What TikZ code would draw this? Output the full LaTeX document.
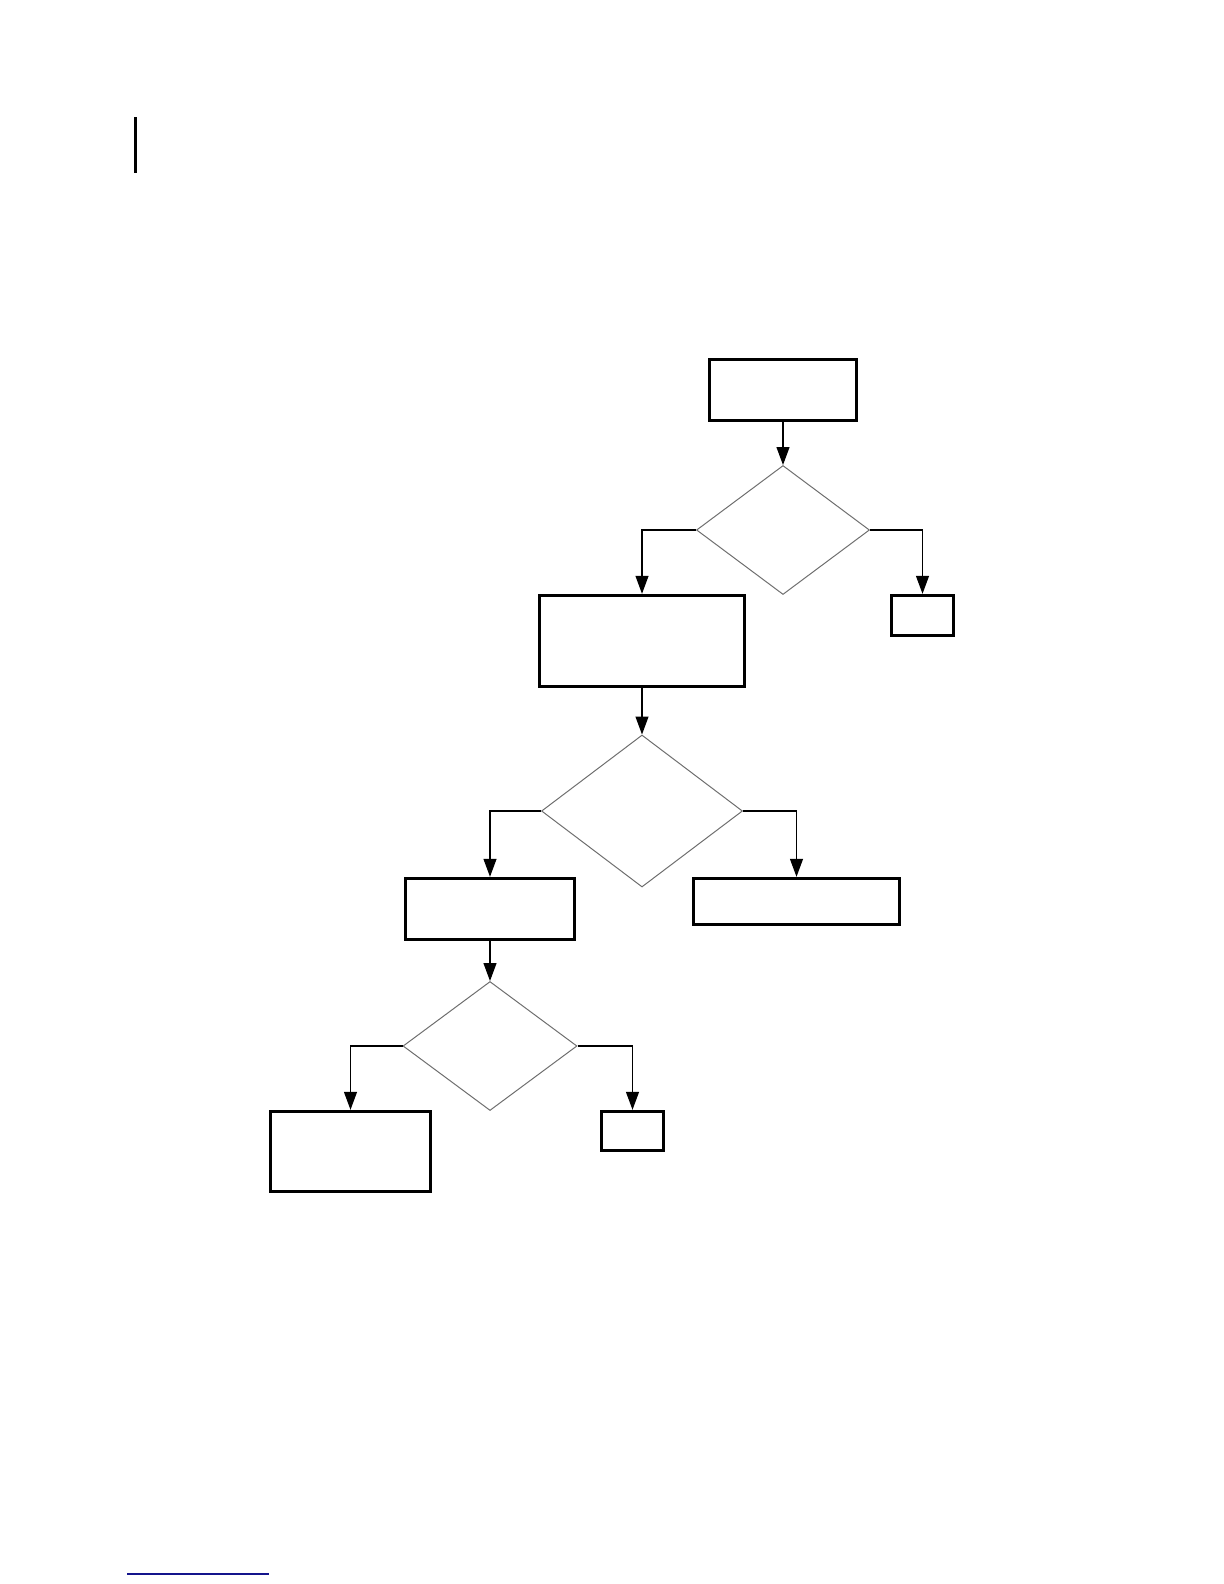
\documentclass[tikz,border=0pt]{standalone}
\usepackage{tikz}
\usetikzlibrary{arrows.meta, positioning, shapes.geometric}
\definecolor{linkblue}{RGB}{20,20,140}
\definecolor{decgray}{RGB}{110,110,110}

\begin{document}
\begin{tikzpicture}[
    x=0.5bp, y=-0.5bp,
    box/.style={draw, line width=1.7bp, inner sep=0pt},
    decision/.style={draw=decgray, diamond, line width=0.5bp, inner sep=0pt},
    arr/.style={-{Triangle[length=9bp,width=6.5bp]}, line width=0.6bp}
]
  \useasboundingbox (0,0) rectangle (1224,1584);

  % Boxes
  \node[box, minimum width=73.5bp, minimum height=30.5bp] (start) at (783,390) {};
  \node[box, minimum width=102.5bp, minimum height=45.5bp] (stepA) at (642,641) {};
  \node[box, minimum width=31bp, minimum height=20bp] (endA) at (922.5,615.5) {};
  \node[box, minimum width=84.5bp, minimum height=30.5bp] (stepB) at (490,909) {};
  \node[box, minimum width=103bp, minimum height=23bp] (endB) at (796.5,901.5) {};
  \node[box, minimum width=80bp, minimum height=40bp] (stepC) at (350.5,1151.5) {};
  \node[box, minimum width=31bp, minimum height=19.5bp] (endC) at (632.5,1131) {};

  % Decisions
  \node[decision, minimum width=86.5bp, minimum height=64.5bp] (dA) at (783,530) {};
  \node[decision, minimum width=100.5bp, minimum height=76bp] (dB) at (642,811) {};
  \node[decision, minimum width=87bp, minimum height=64.5bp] (dC) at (490,1046) {};

  % Arrows
  \draw[arr] (start) -- (dA);
  \draw[arr] (dA.west) -| (stepA.north);
  \draw[arr] (dA.east) -| (endA.north);
  \draw[arr] (stepA) -- (dB);
  \draw[arr] (dB.west) -| (stepB.north);
  \draw[arr] (dB.east) -| (endB.north);
  \draw[arr] (stepB) -- (dC);
  \draw[arr] (dC.west) -| (stepC.north);
  \draw[arr] (dC.east) -| (endC.north);

  % Page marks
  \coordinate (barTop) at (135,117);
  \coordinate (barBot) at (135,173);
  \draw[line width=1.5bp] (barTop) -- (barBot);
  \coordinate (ruleL) at (127,1574);
  \coordinate (ruleR) at (269,1574);
  \draw[linkblue, line width=1bp] (ruleL) -- (ruleR);
\end{tikzpicture}
\end{document}
